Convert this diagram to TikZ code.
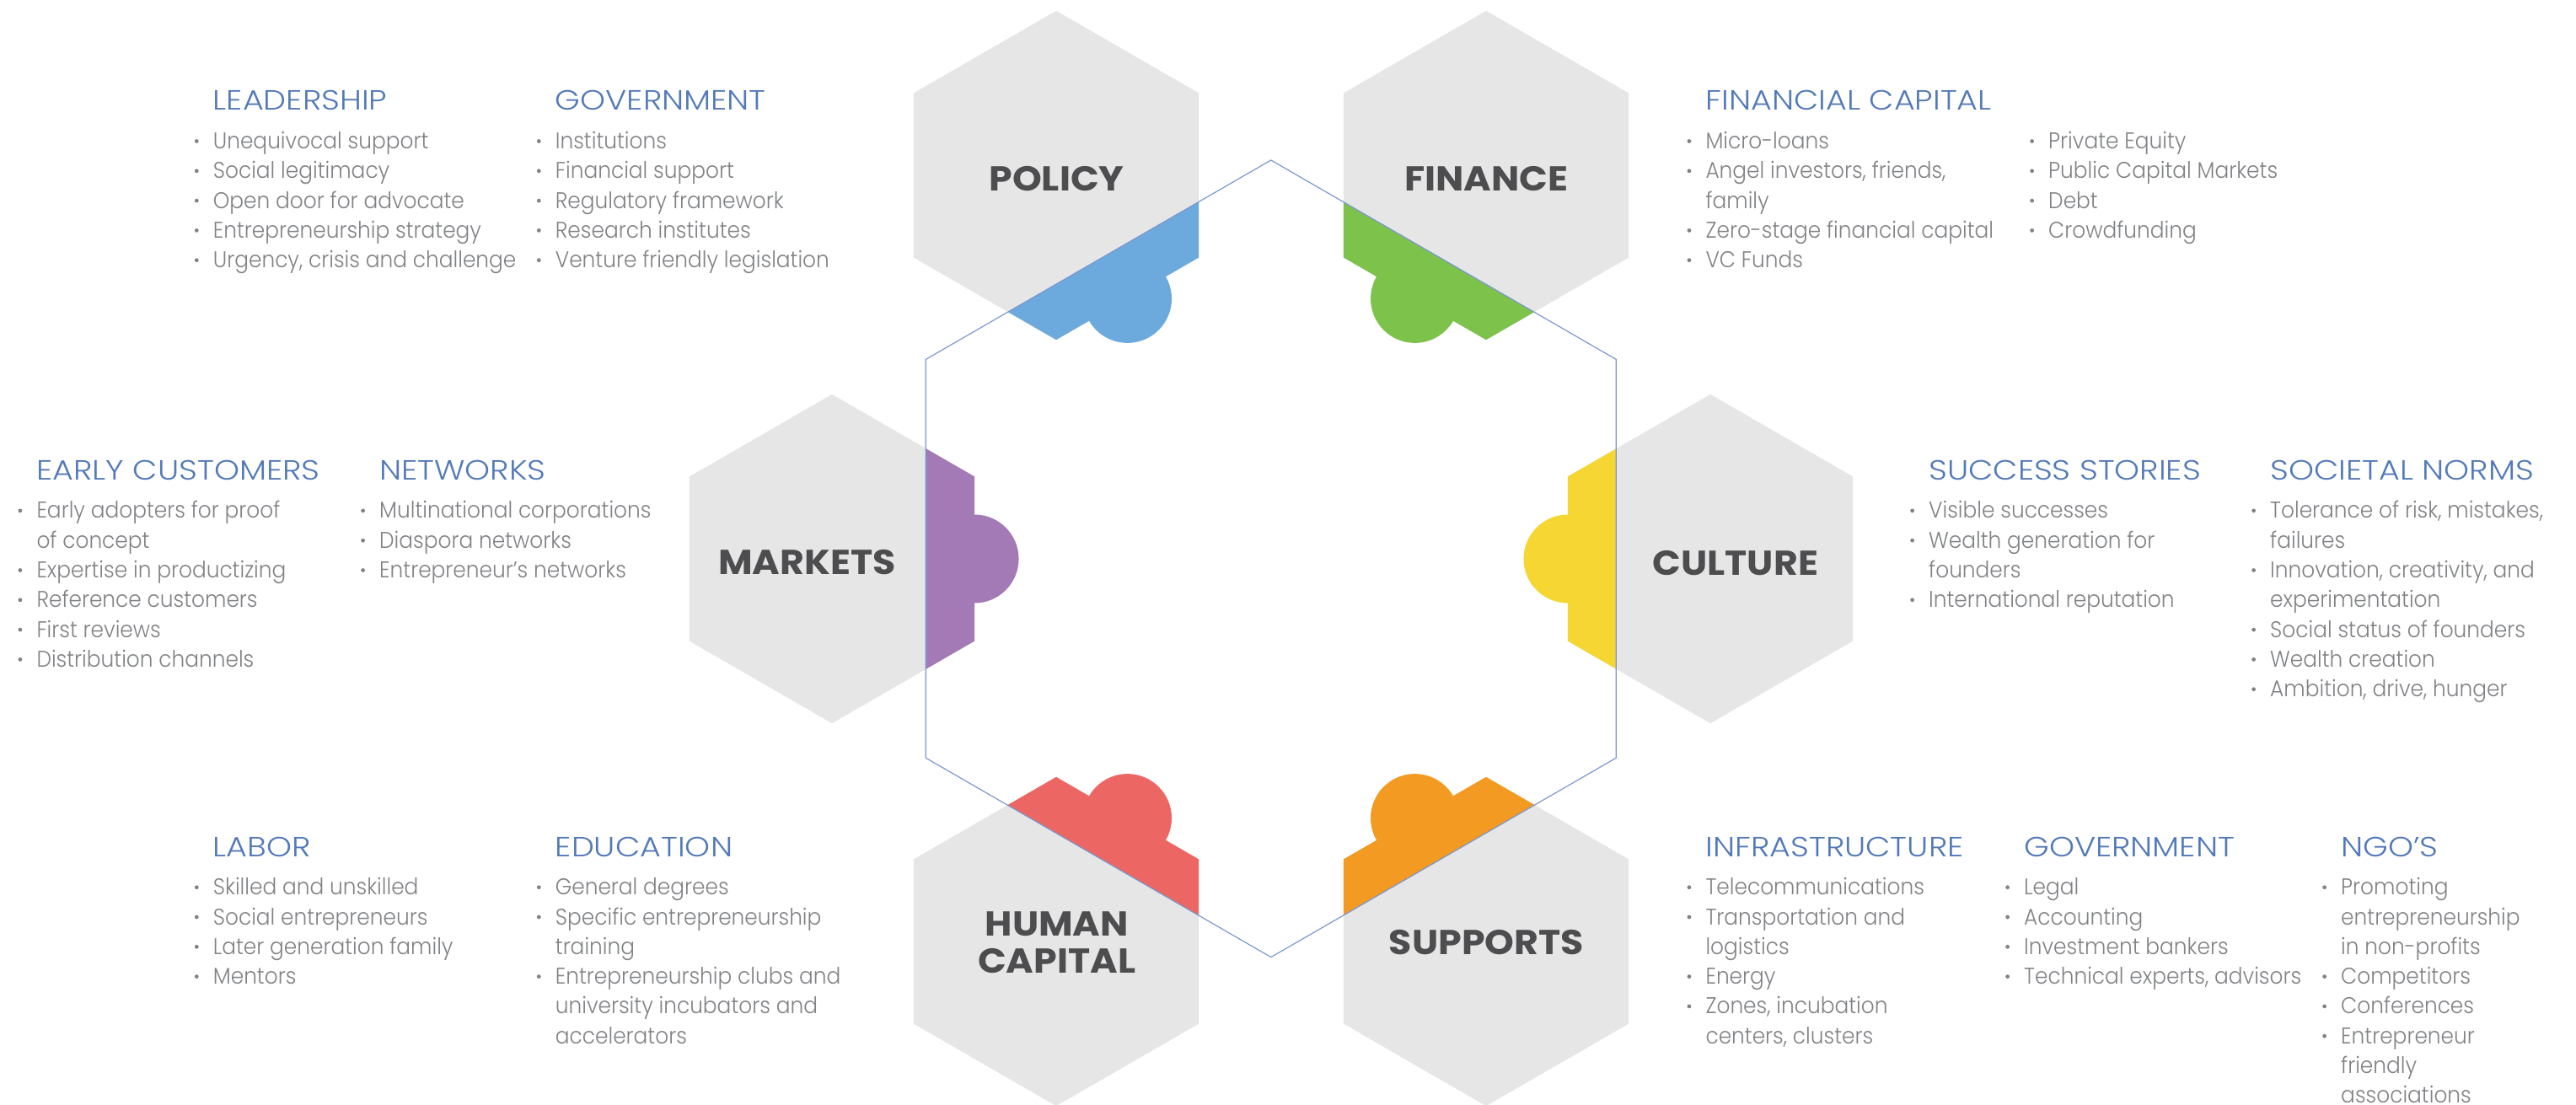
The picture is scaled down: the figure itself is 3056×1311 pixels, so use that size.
\documentclass[tikz,border=0pt]{standalone}
\usepackage{fontspec}
\setmainfont{Poppins}
\newfontfamily\labfont{Poppins}[FakeStretch=1.08]
\newfontfamily\headfont{Poppins Light}[FakeStretch=1.155]
\newfontfamily\bodyfont{Poppins Light}[FakeStretch=0.92]
\definecolor{hexgray}{HTML}{E6E6E6}
\definecolor{pblue}{HTML}{6CA9DC}
\definecolor{pgreen}{HTML}{7DC24B}
\definecolor{ppurple}{HTML}{A37AB5}
\definecolor{pyellow}{HTML}{F5D633}
\definecolor{pred}{HTML}{EC6763}
\definecolor{porange}{HTML}{F29A22}
\definecolor{headblue}{HTML}{5279B8}
\definecolor{bodygray}{HTML}{808285}
\definecolor{labgray}{HTML}{4D4D4F}
\definecolor{ringblue}{HTML}{7A98D0}
\tikzset{
  lab/.style={font=\labfont\fontsize{41}{44}\selectfont\bfseries, text=labgray, inner sep=0pt, align=center},
  head/.style={font=\headfont\fontsize{33}{40}\selectfont, text=headblue, inner sep=0pt, anchor=base west},
  body/.style={font=\bodyfont\fontsize{27}{35}\selectfont, text=bodygray, inner sep=0pt, anchor=base west},
  ring/.style={draw=ringblue, line width=1.2pt, line join=miter},
}
\newcommand\hexagon[2]{(#1,#2) ++(0,-195.2) -- ++(169.05,97.6) -- ++(0,195.2) -- ++(-169.05,97.6) -- ++(-169.05,-97.6) -- ++(0,-195.2) -- cycle}
\newcommand\centralhex{(1507.8,190) -- (1917.3,426.4) -- (1917.3,899.2) -- (1507.8,1135.6) -- (1098.3,899.2) -- (1098.3,426.4) -- cycle}
\newcommand\infoitems[4]{%
  \foreach \bul/\txt [count=\i] in {#4} {
    \pgfmathsetmacro\yy{#3+45.7+35.3*(\i-1)}
    \node[body] (#1-\i) at (#2,\yy) {\txt};
    \ifnum\bul=1 \fill[bodygray] (#2-19.4,\yy-9) circle[radius=2.4pt];\fi
  }}
\newcommand\infocol[5]{%
  \node[head] (#1) at (#2,#3) {#4};
  \infoitems{#1}{#2}{#3}{#5}}
\begin{document}
\begin{tikzpicture}[x=1pt,y=-1pt]
\useasboundingbox (0,0) rectangle (3056,1311);
% grey hexagons
\fill[hexgray] \hexagon{1253}{208};
\fill[hexgray] \hexagon{1763}{208};
\fill[hexgray] \hexagon{987}{663};
\fill[hexgray] \hexagon{2029}{663};
\fill[hexgray] \hexagon{1253}{1117};
\fill[hexgray] \hexagon{1763}{1117};
% coloured pieces inside the central hexagon
\begin{scope}
  \clip \centralhex;
  \fill[pblue] \hexagon{1253}{208};
  \fill[pgreen] \hexagon{1763}{208};
  \fill[ppurple] \hexagon{987}{663};
  \fill[pyellow] \hexagon{2029}{663};
  \fill[pred] \hexagon{1253}{1117};
  \fill[porange] \hexagon{1763}{1117};
\end{scope}
\fill[pblue] (1337.5,354.4) circle[radius=52.5pt];
\fill[pgreen] (1678.5,354.4) circle[radius=52.5pt];
\fill[ppurple] (1156.05,663) circle[radius=52.5pt];
\fill[pyellow] (1859.95,663) circle[radius=52.5pt];
\fill[pred] (1337.5,970.6) circle[radius=52.5pt];
\fill[porange] (1678.5,970.6) circle[radius=52.5pt];
% central outline
\draw[ring] \centralhex;
% hexagon labels
\node[lab] (policy) at (1253.5,211.7) {POLICY};
\node[lab] (finance) at (1763.5,211.7) {FINANCE};
\node[lab] (markets) at (957.5,667.5) {MARKETS};
\node[lab] (culture) at (2058.8,668) {CULTURE};
\node[lab] (human) at (1253.7,1117.8) {HUMAN\\CAPITAL};
\node[lab] (supports) at (1763.3,1118.2) {SUPPORTS};
% text columns
\infocol{lead}{252.7}{130.8}{LEADERSHIP}{1/Unequivocal support, 1/Social legitimacy, 1/Open door for advocate, 1/Entrepreneurship strategy, 1/{Urgency, crisis and challenge}}
\infocol{govt}{658.7}{130.8}{GOVERNMENT}{1/Institutions, 1/Financial support, 1/Regulatory framework, 1/Research institutes, 1/Venture friendly legislation}
\infocol{fin}{2023.3}{130.8}{FINANCIAL CAPITAL}{1/Micro-loans, 1/{Angel investors, friends,}, 0/family, 1/Zero-stage financial capital, 1/VC Funds}
\infoitems{fintwo}{2430}{130.8}{1/Private Equity, 1/Public Capital Markets, 1/Debt, 1/Crowdfunding}
\infocol{early}{43.3}{569.2}{EARLY CUSTOMERS}{1/Early adopters for proof, 0/of concept, 1/Expertise in productizing, 1/Reference customers, 1/First reviews, 1/Distribution channels}
\infocol{netw}{450}{569.2}{NETWORKS}{1/Multinational corporations, 1/Diaspora networks, 1/Entrepreneur’s networks}
\infocol{succ}{2288}{569.2}{SUCCESS STORIES}{1/Visible successes, 1/Wealth generation for, 0/founders, 1/International reputation}
\infocol{norms}{2693}{569.2}{SOCIETAL NORMS}{1/{Tolerance of risk, mistakes,}, 0/failures, 1/{Innovation, creativity, and}, 0/experimentation, 1/Social status of founders, 1/Wealth creation, 1/{Ambition, drive, hunger}}
\infocol{labor}{252.7}{1016}{LABOR}{1/Skilled and unskilled, 1/Social entrepreneurs, 1/Later generation family, 1/Mentors}
\infocol{edu}{658.7}{1016}{EDUCATION}{1/General degrees, 1/Specific entrepreneurship, 0/training, 1/Entrepreneurship clubs and, 0/university incubators and, 0/accelerators}
\infocol{infra}{2023.3}{1016}{INFRASTRUCTURE}{1/Telecommunications, 1/Transportation and, 0/logistics, 1/Energy, 1/{Zones, incubation}, 0/{centers, clusters}}
\infocol{govtwo}{2401}{1016}{GOVERNMENT}{1/Legal, 1/Accounting, 1/Investment bankers, 1/{Technical experts, advisors}}
\infocol{ngo}{2777}{1016}{NGO’S}{1/Promoting, 0/entrepreneurship, 0/in non-profits, 1/Competitors, 1/Conferences, 1/Entrepreneur, 0/friendly, 0/associations}
\end{tikzpicture}
\end{document}
